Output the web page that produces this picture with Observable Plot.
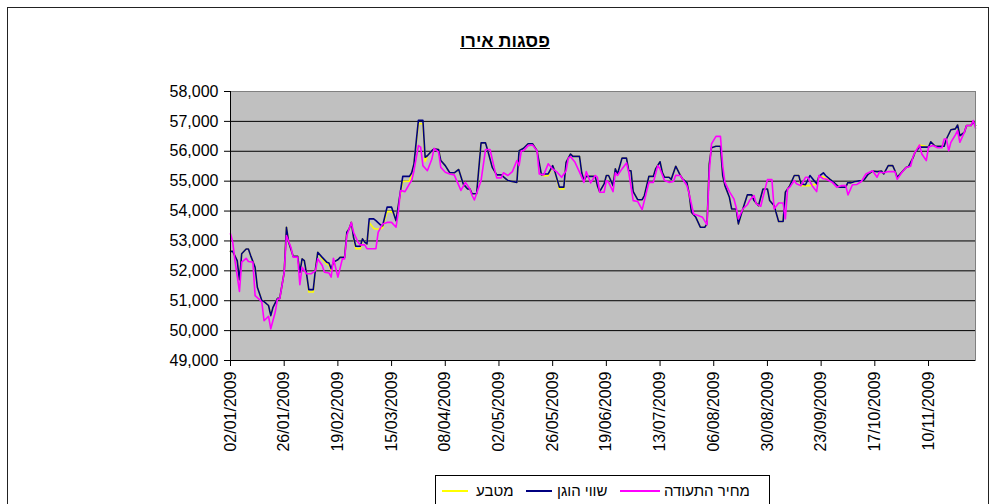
<!DOCTYPE html>
<html><head><meta charset="utf-8">
<script src="https://cdn.jsdelivr.net/npm/d3@7"></script>
<script src="https://cdn.jsdelivr.net/npm/@observablehq/plot@0.6"></script>
<style>
body{margin:0;background:#fff;font-family:"Liberation Sans",Arial,sans-serif;}
#wrap{position:relative;width:992px;height:504px;overflow:hidden;background:#fff;}
#frame{position:absolute;left:7px;top:7px;width:980px;height:540px;border:1.5px solid #222;}
#title{position:absolute;left:405px;width:200px;top:31px;text-align:center;font-weight:bold;font-size:18px;text-decoration:underline;direction:rtl;color:#000;}
#chart{position:absolute;left:0;top:0;}
#legend{position:absolute;left:435px;top:475px;width:333px;height:34px;border:1px solid #000;background:#fff;font-size:15px;}
.li{position:absolute;top:6px;white-space:nowrap;direction:rtl;}
.ln{position:absolute;top:14px;height:0;border-top:2px solid;}
</style></head>
<body><div id="wrap"><div id="frame"></div><div id="title">פסגות אירו</div><div id="chart"></div>
<div id="legend">
<span class="ln" style="left:6px;width:26px;border-color:#FFFF00"></span><span class="li" style="left:40px">מטבע</span>
<span class="ln" style="left:90px;width:26px;border-color:#000080"></span><span class="li" style="left:121px">שווי הוגן</span>
<span class="ln" style="left:184px;width:40px;border-color:#FF00FF"></span><span class="li" style="left:228px">מחיר התעודה</span>
</div></div>
<script>
const seriesNames = ["מחיר התעודה", "שווי הוגן", "מטבע"];
const yTicks = [49000,50000,51000,52000,53000,54000,55000,56000,57000,58000];
const xTickLabels = ["02/01/2009","26/01/2009","19/02/2009","15/03/2009","08/04/2009","02/05/2009","26/05/2009","19/06/2009","13/07/2009","06/08/2009","30/08/2009","23/09/2009","17/10/2009","10/11/2009"];

const fairDates = ["01-02","01-03","01-05","01-06","01-07","01-09","01-10","01-11","01-13","01-14","01-15","01-16","01-17","01-19","01-20","01-21","01-23","01-24","01-26","01-27","01-28","01-30","02-01","02-02","02-03","02-04","02-05","02-06","02-08","02-09","02-10","02-12","02-14","02-15","02-16","02-17","02-19","02-20","02-22","02-23","02-24","02-25","02-26","02-27","03-01","03-02","03-03","03-04","03-05","03-07","03-08","03-10","03-11","03-13","03-15","03-16","03-17","03-18","03-20","03-23","03-24","03-25","03-27","03-29","03-30","03-31","04-02","04-03","04-05","04-06","04-08","04-10","04-12","04-14","04-16","04-18","04-19","04-20","04-22","04-24","04-26","04-27","04-29","05-01","05-03","05-06","05-10","05-11","05-13","05-15","05-17","05-18","05-19","05-21","05-22","05-24","05-26","05-27","05-29","05-31","06-01","06-03","06-04","06-07","06-08","06-09","06-10","06-14","06-15","06-16","06-18","06-19","06-20","06-22","06-23","06-24","06-26","06-28","06-29","06-30","07-01","07-03","07-05","07-06","07-08","07-10","07-11","07-13","07-14","07-15","07-17","07-18","07-20","07-22","07-23","07-25","07-26","07-27","07-29","07-31","08-02","08-03","08-04","08-05","08-07","08-09","08-10","08-11","08-13","08-14","08-16","08-17","08-19","08-21","08-23","08-24","08-26","08-28","08-30","08-31","09-02","09-04","09-06","09-07","09-09","09-11","09-13","09-14","09-16","09-18","09-21","09-22","09-24","09-25","09-27","09-29","10-01","10-04","10-05","10-06","10-08","10-10","10-12","10-14","10-16","10-18","10-20","10-21","10-23","10-25","10-26","10-27","10-29","10-31","11-01","11-03","11-04","11-06","11-10","11-11","11-13","11-17","11-18","11-20","11-22","11-23","11-24","11-26","11-27","11-29","11-30","12-01"];
const fairValues = [52650,52650,52340,51700,52570,52730,52730,52510,52120,51450,51230,51010,50970,50840,50500,50780,51080,51080,51950,53460,52960,52490,52490,51950,52400,52340,51900,51370,51370,52070,52620,52450,52290,52260,52070,52290,52370,52450,52450,53290,53400,53620,53120,52820,52820,53070,52960,52900,53740,53740,53680,53540,53510,54130,54130,53900,53680,54180,55160,55160,55280,55580,57040,57040,55800,55850,56020,56080,56060,55690,55520,55280,55280,55390,54910,54740,54740,54580,54580,56280,56280,56020,55460,55210,55210,55020,54960,56020,56100,56250,56250,56140,56020,55210,55240,55240,55520,55320,54800,54800,55630,55910,55830,55830,55280,55020,55160,55160,54850,54650,54910,55190,55190,54850,55410,55240,55770,55770,55350,55350,54650,54380,54380,54520,55160,55160,55410,55650,55300,55130,55130,55060,55500,55200,55080,54960,54580,53960,53790,53460,53460,53570,55580,56120,56170,56170,55190,54850,54460,54070,54070,53570,54070,54540,54540,54350,54180,54740,54740,54350,54180,53650,53650,54630,54850,55190,55190,54910,54880,55190,54910,55160,55280,55190,55060,54940,54800,54800,54960,54940,54990,55010,55020,55230,55340,55320,55340,55240,55520,55520,55350,55130,55300,55460,55490,55770,55970,56140,56140,56320,56170,56170,56410,56720,56750,56880,56520,56630,56860,56860,57000,56860];
const currencyValues = [52650,52650,52340,51700,52570,52730,52730,52510,52120,51450,51230,51010,50970,50840,50500,50780,51080,51080,51950,53460,52960,52490,52490,51950,52400,52340,51900,51290,51290,52070,52620,52390,52230,52200,52010,52290,52370,52450,52450,53290,53400,53620,53120,52740,52740,53070,52960,52900,53620,53420,53400,53400,53450,53980,53980,53900,53680,54180,54990,55000,55280,55580,56920,56920,55660,55850,56020,56080,56060,55690,55520,55280,55280,55390,54910,54740,54740,54580,54580,56280,56280,56020,55460,55210,55210,55020,54960,56020,56100,56250,56250,56140,56020,55210,55180,55180,55520,55320,54740,54740,55630,55910,55830,55830,55280,55020,55160,55160,54850,54650,54910,55190,55190,54850,55410,55240,55770,55770,55350,55350,54650,54380,54380,54520,55160,55160,55410,55650,55300,55130,55130,55060,55500,55200,55080,54960,54580,53960,53790,53460,53460,53570,55580,56120,56170,56170,55190,54850,54460,54070,54070,53570,54070,54540,54540,54350,54180,54740,54740,54350,54180,53650,53650,54630,54850,55190,55190,54850,54850,54850,54910,55160,55150,55080,55060,54940,54800,54800,54960,54940,54990,55010,55020,55230,55340,55320,55340,55240,55520,55520,55350,55130,55300,55460,55490,55770,55970,56210,56140,56320,56170,56170,56410,56720,56750,56880,56520,56630,56860,56860,57000,56860];

const priceDates = ["01-02","01-03","01-04","01-06","01-07","01-09","01-10","01-12","01-13","01-15","01-16","01-17","01-19","01-20","01-22","01-23","01-24","01-26","01-27","01-29","01-30","02-01","02-02","02-03","02-05","02-07","02-09","02-10","02-12","02-13","02-15","02-16","02-17","02-19","02-21","02-22","02-23","02-25","02-26","02-28","03-01","03-03","03-04","03-08","03-09","03-11","03-13","03-15","03-17","03-18","03-19","03-21","03-23","03-24","03-25","03-27","03-28","03-29","03-31","04-02","04-03","04-05","04-06","04-08","04-10","04-12","04-15","04-17","04-19","04-20","04-21","04-24","04-26","04-28","04-30","05-01","05-03","05-04","05-06","05-08","05-10","05-11","05-12","05-13","05-15","05-17","05-19","05-20","05-22","05-24","05-26","05-28","05-30","06-01","06-02","06-03","06-05","06-07","06-09","06-10","06-12","06-14","06-15","06-16","06-18","06-19","06-20","06-22","06-23","06-24","06-26","06-28","06-29","07-01","07-03","07-05","07-06","07-08","07-10","07-12","07-13","07-15","07-17","07-19","07-20","07-22","07-23","07-25","07-26","07-28","07-30","08-01","08-03","08-04","08-05","08-07","08-09","08-10","08-11","08-13","08-15","08-16","08-17","08-19","08-21","08-22","08-24","08-25","08-27","08-30","09-01","09-02","09-04","09-06","09-07","09-08","09-09","09-11","09-12","09-14","09-16","09-17","09-19","09-21","09-22","09-24","09-25","09-28","09-30","10-02","10-04","10-05","10-07","10-09","10-11","10-13","10-16","10-18","10-19","10-21","10-23","10-26","10-27","10-29","10-31","11-02","11-03","11-04","11-06","11-07","11-09","11-10","11-12","11-14","11-16","11-17","11-18","11-19","11-20","11-22","11-23","11-24","11-26","11-27","11-29","11-30","12-01"];
const priceValues = [53240,52960,52340,51310,52290,52420,52310,52290,51170,51040,50950,50330,50480,50060,50620,51060,51060,51950,53180,52790,52460,52460,51540,52120,51900,51900,52010,52400,52180,51950,51930,51790,52420,51790,52400,52400,53180,53620,53290,52960,52870,52870,52740,52740,53290,53570,53620,53620,53460,53960,54690,54650,54910,55020,55350,56190,56140,55520,55350,55740,56100,55970,55460,55300,55240,55210,54690,54960,54740,54520,54370,55020,56060,56060,55410,55110,55110,55280,55190,55320,55690,55520,56020,56020,56190,56210,56020,55240,55210,55580,55410,55300,55130,55350,55770,55820,55630,55300,54960,55320,54940,55190,55130,54630,54630,55020,54960,54650,55280,55190,55410,55610,55300,54350,54320,54050,54350,54960,54960,55520,55410,55020,54960,54990,55200,55190,55080,54850,54580,53900,53850,53790,53540,55300,56250,56500,56500,55520,54960,54650,54410,54130,53740,54070,54210,54350,54520,54240,54160,55050,55050,54070,54270,54270,53740,54740,54800,55020,54910,54850,55130,55130,54850,54650,55190,55080,55070,54960,54800,54850,54850,54540,54880,54890,54990,55240,55350,55130,55300,55280,55320,55320,55060,55280,55460,55500,55800,55970,56210,55910,55690,56140,56190,56120,56120,56410,56410,56020,56300,56550,56690,56300,56630,56860,56860,57030,56770];

const parse = s => new Date("2009-" + s + "T00:00:00Z");
const fair = fairDates.map((d, i) => ({date: parse(d), value: fairValues[i]}));
const currency = fairDates.map((d, i) => ({date: parse(d), value: currencyValues[i]}));
const price = priceDates.map((d, i) => ({date: parse(d), value: priceValues[i]}));
const parseTick = s => { const [dd, mm, yy] = s.split("/"); return new Date(Date.UTC(+yy, +mm - 1, +dd)); };
const xTicks = xTickLabels.map(parseTick);
const xStart = parse("01-02"), xEnd = parse("12-01");
const fmt = d3.utcFormat("%d/%m/%Y");

const chart = Plot.plot({
  width: 992, height: 462,
  marginLeft: 230, marginRight: 17, marginTop: 91, marginBottom: 102,
  style: {fontFamily: "'Liberation Sans', Arial, sans-serif", fontSize: "16px", color: "#000", background: "transparent", overflow: "visible"},
  x: {type: "utc", domain: [xStart, xEnd]},
  y: {domain: [49000, 58000]},
  marks: [
    Plot.frame({fill: "#C0C0C0"}),
    Plot.ruleY(yTicks.filter(v => v < 58000 && v > 49000), {stroke: "#000", strokeWidth: 1}),
    Plot.lineY(currency, {x: "date", y: "value", stroke: "#FFFF00", strokeWidth: 1.6}),
    Plot.lineY(fair, {x: "date", y: "value", stroke: "#000080", strokeWidth: 1.6}),
    Plot.lineY(price, {x: "date", y: "value", stroke: "#FF00FF", strokeWidth: 1.6}),
    Plot.frame({stroke: "#808080"}),
    Plot.ruleY([49000], {stroke: "#000", strokeWidth: 1}),
    Plot.ruleX([xStart], {stroke: "#000", strokeWidth: 1}),
    Plot.axisY({ticks: yTicks, tickFormat: d3.format(","), tickSize: 6, tickPadding: 6, label: null, fontSize: 16}),
    Plot.axisX({ticks: xTicks, tickFormat: fmt, tickRotate: -90, tickSize: 6, tickPadding: 5, label: null, fontSize: 16})
  ]
});
document.getElementById("chart").appendChild(chart);
</script></body></html>
